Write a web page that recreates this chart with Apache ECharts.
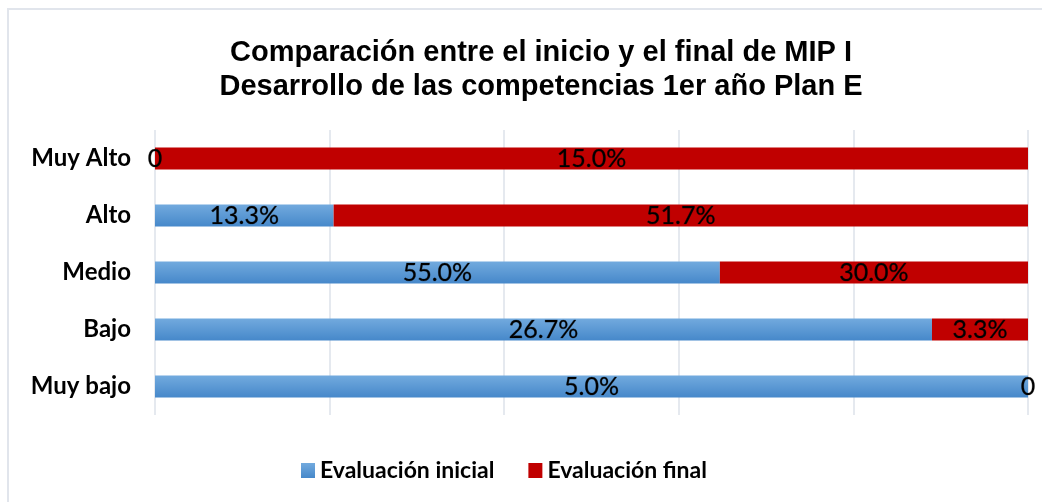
<!DOCTYPE html>
<html>
<head>
<meta charset="utf-8">
<script src="https://cdn.jsdelivr.net/npm/echarts@6/dist/echarts.min.js"></script>
<style>
html,body{margin:0;padding:0;background:#fff;}
#frame{position:absolute;left:7px;top:8px;width:1040px;height:500px;border-top:2px solid #e1e5ec;border-left:2px solid #e1e5ec;}
#chart{position:absolute;left:0;top:0;width:1042px;height:502px;}
</style>
</head>
<body>
<div id="frame"></div>
<div id="chart"></div>
<script>
var categories = ['Muy Alto', 'Alto', 'Medio', 'Bajo', 'Muy bajo'];
var inicial = [0, 13.3, 55.0, 26.7, 5.0];
var final = [15.0, 51.7, 30.0, 3.3, 0];
var seriesNames = ['Evaluación inicial', 'Evaluación final'];

function share(a, b) {
  return a.map(function (v, i) { var t = a[i] + b[i]; return t ? v / t * 100 : 0; });
}
var inicialShare = share(inicial, final);
var finalShare = share(final, inicial);

function labelFmt(raw) {
  return function (p) { var v = raw[p.dataIndex]; return v === 0 ? '0' : v.toFixed(1) + '%'; };
}

var chart = echarts.init(document.getElementById('chart'));
var labelStyle = { show: true, position: 'inside', color: '#000', fontFamily: 'Lato', fontSize: 25,
  textBorderColor: 'rgba(0,0,0,0.4)', textBorderWidth: 0.7 };
chart.setOption({
  animation: false,
  title: {
    text: 'Comparación entre el inicio y el final de MIP I\nDesarrollo de las competencias 1er año Plan E',
    left: 536, top: 31, textAlign: 'center',
    textStyle: { fontFamily: 'Liberation Sans', fontWeight: 'bold', fontSize: 29, lineHeight: 34, color: '#000' }
  },
  legend: {
    data: seriesNames, bottom: 15, left: 296, itemWidth: 14, itemHeight: 15, itemGap: 34,
    icon: 'rect',
    textStyle: { fontFamily: 'Lato', fontWeight: 'bold', fontSize: 23, color: '#000' }
  },
  grid: { left: 155, right: 14, top: 130, bottom: 87 },
  xAxis: {
    type: 'value', min: 0, max: 100, interval: 20,
    axisLabel: { show: false }, axisLine: { show: false }, axisTick: { show: false },
    splitLine: { lineStyle: { color: '#dde2ea', width: 1.5 } }
  },
  yAxis: {
    type: 'category', data: categories, inverse: true,
    axisLine: { show: false }, axisTick: { show: false },
    axisLabel: { fontFamily: 'Lato', fontWeight: 'bold', fontSize: 24, color: '#000', margin: 24 }
  },
  series: [
    {
      name: seriesNames[0], type: 'bar', stack: 'a', barWidth: 22,
      data: inicialShare,
      itemStyle: { color: new echarts.graphic.LinearGradient(0, 0, 0, 1, [{ offset: 0, color: '#72aade' }, { offset: 1, color: '#4688ca' }]) },
      label: Object.assign({ formatter: labelFmt(inicial) }, labelStyle)
    },
    {
      name: seriesNames[1], type: 'bar', stack: 'a', barWidth: 22,
      data: finalShare,
      itemStyle: { color: '#c00000' },
      label: Object.assign({ formatter: labelFmt(final) }, labelStyle)
    }
  ]
});
</script>
</body>
</html>
